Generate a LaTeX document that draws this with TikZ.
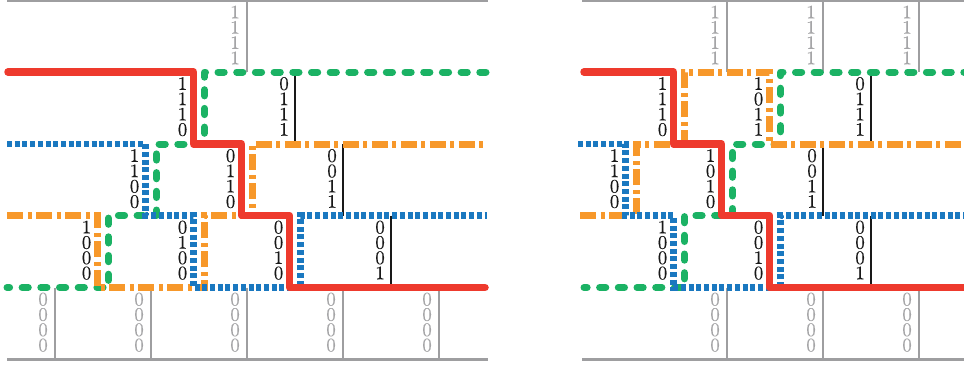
\documentclass[tikz,border=0pt]{standalone}
\usepackage{fontspec}
\newfontfamily\bitfont{lmroman10-regular.otf}[FakeBold=0.4]
\definecolor{cred}{RGB}{238,58,45}
\definecolor{cgreen}{RGB}{27,178,100}
\definecolor{cblue}{RGB}{26,120,192}
\definecolor{corange}{RGB}{247,152,42}
\definecolor{cgrayline}{RGB}{158,158,160}
\definecolor{cgraytext}{RGB}{165,165,167}
\definecolor{cblack}{RGB}{25,25,25}
\tikzset{
  redcut/.style={draw=cred,line width=7.5pt,line cap=round,line join=round},
  greencut/.style={draw=cgreen,line width=7pt,line cap=round,line join=round,dash pattern=on 6.2pt off 12.5pt},
  orangecut/.style={draw=corange,line width=7pt,line cap=butt,line join=miter,dash pattern=on 16pt off 4.5pt on 4pt off 4.5pt},
  bluecut/.style={draw=cblue,line width=6.5pt,line cap=butt,line join=miter,dash pattern=on 5pt off 2.7pt},
  grayrule/.style={draw=cgrayline,line width=2.4pt},
  blackrule/.style={draw=cblack,line width=2.2pt},
  bits/.style={inner sep=0pt,anchor=north east,align=right,text=cblack,font=\bitfont\fontsize{19}{15.3}\selectfont},
  graybits/.style={bits,text=cgraytext}
}
\begin{document}
\begin{tikzpicture}[x=1pt,y=-1pt]
\useasboundingbox (0,0) rectangle (964,367);
% ---------------- gray frame rules ----------------
% left panel
\draw[grayrule] (7,0.3) -- (488,0.3);
\draw[grayrule] (7,359.5) -- (488,359.5);
\draw[grayrule] (247,0.3) -- (247,72);
\foreach \x in {55,151,247,343,439} \draw[grayrule] (\x,287.5) -- (\x,359.5);
% right panel
\draw[grayrule] (582,0.3) -- (970,0.3);
\draw[grayrule] (582,359.5) -- (970,359.5);
\foreach \x in {727,823,919} {
  \draw[grayrule] (\x,0.3) -- (\x,72);
  \draw[grayrule] (\x,287.5) -- (\x,359.5);
}
% ---------------- black rules ----------------
\draw[blackrule] (295,72) -- (295,144);
\draw[blackrule] (343,144) -- (343,215.5);
\draw[blackrule] (391,215.5) -- (391,287.5);
\draw[blackrule] (871,72) -- (871,144);
\draw[blackrule] (823,144) -- (823,215.5);
\draw[blackrule] (871,215.5) -- (871,287.5);
% ---------------- left panel cuts ----------------
\draw[greencut] (486,72) -- (204.5,72) -- (204.5,144) -- (156.5,144) -- (156.5,215.5) -- (108.5,215.5) -- (108.5,287.5) -- (7,287.5);
\draw[orangecut] (7,215.5) -- (97.5,215.5) -- (97.5,287.5) -- (204.5,287.5) -- (204.5,215.5) -- (252.5,215.5) -- (252.5,144) -- (484,144);
\draw[bluecut] (7,144) -- (145.5,144) -- (145.5,215.5) -- (193.5,215.5) -- (193.5,287.5) -- (300.5,287.5) -- (300.5,215.5) -- (487,215.5);
\draw[redcut] (8,72) -- (193.5,72) -- (193.5,144) -- (241.5,144) -- (241.5,215.5) -- (289.5,215.5) -- (289.5,287.5) -- (485,287.5);
% ---------------- right panel cuts ----------------
\draw[greencut] (970,72) -- (780.5,72) -- (780.5,144) -- (732.5,144) -- (732.5,215.5) -- (684.5,215.5) -- (684.5,287.5) -- (584,287.5);
\draw[orangecut] (580,215.5) -- (636.5,215.5) -- (636.5,144) -- (684.5,144) -- (684.5,72) -- (769.5,72) -- (769.5,144) -- (970,144);
\draw[bluecut] (578,144) -- (625.5,144) -- (625.5,215.5) -- (673.5,215.5) -- (673.5,287.5) -- (780.5,287.5) -- (780.5,215.5) -- (970,215.5);
\draw[redcut] (584,72) -- (673.5,72) -- (673.5,144) -- (721.5,144) -- (721.5,215.5) -- (769.5,215.5) -- (769.5,287.5) -- (970,287.5);
% ---------------- left panel labels ----------------
\node[graybits] (La0) at (240,5.5) {1\\1\\1\\1};
\node[bits] (La1) at (187.5,77) {1\\1\\1\\0};
\node[bits] (Lb1) at (289,77) {0\\1\\1\\1};
\node[bits] (La2) at (139.5,149) {1\\1\\0\\0};
\node[bits] (Lb2) at (235.5,149) {0\\1\\1\\0};
\node[bits] (Lc2) at (337,149) {0\\0\\1\\1};
\node[bits] (La3) at (91.5,220.5) {1\\0\\0\\0};
\node[bits] (Lb3) at (187.5,220.5) {0\\1\\0\\0};
\node[bits] (Lc3) at (283.5,220.5) {0\\0\\1\\0};
\node[bits] (Ld3) at (385,220.5) {0\\0\\0\\1};
\node[graybits] (La4) at (48,292.5) {0\\0\\0\\0};
\node[graybits] (Lb4) at (144,292.5) {0\\0\\0\\0};
\node[graybits] (Lc4) at (240,292.5) {0\\0\\0\\0};
\node[graybits] (Ld4) at (336,292.5) {0\\0\\0\\0};
\node[graybits] (Le4) at (432,292.5) {0\\0\\0\\0};
% ---------------- right panel labels ----------------
\node[graybits] (Ra0) at (720,5.5) {1\\1\\1\\1};
\node[graybits] (Rb0) at (816,5.5) {1\\1\\1\\1};
\node[graybits] (Rc0) at (912,5.5) {1\\1\\1\\1};
\node[bits] (Ra1) at (667.5,77) {1\\1\\1\\0};
\node[bits] (Rb1) at (763.5,77) {1\\0\\1\\1};
\node[bits] (Rc1) at (865,77) {0\\1\\1\\1};
\node[bits] (Ra2) at (619.5,149) {1\\1\\0\\0};
\node[bits] (Rb2) at (715.5,149) {1\\0\\1\\0};
\node[bits] (Rc2) at (817,149) {0\\0\\1\\1};
\node[bits] (Ra3) at (667.5,220.5) {1\\0\\0\\0};
\node[bits] (Rb3) at (763.5,220.5) {0\\0\\1\\0};
\node[bits] (Rc3) at (865,220.5) {0\\0\\0\\1};
\node[graybits] (Ra4) at (720,292.5) {0\\0\\0\\0};
\node[graybits] (Rb4) at (816,292.5) {0\\0\\0\\0};
\node[graybits] (Rc4) at (912,292.5) {0\\0\\0\\0};
\end{tikzpicture}
\end{document}
